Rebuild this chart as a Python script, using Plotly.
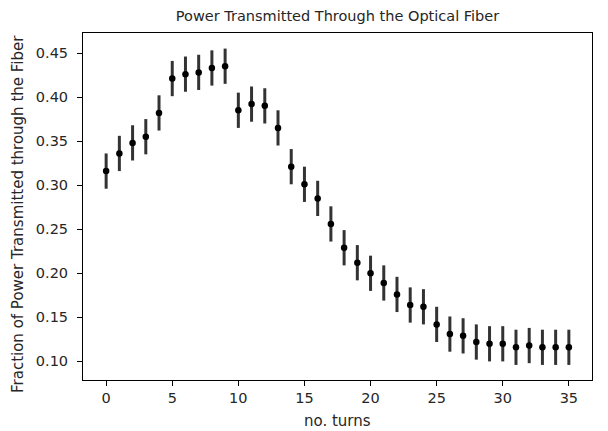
import plotly.graph_objects as go

turns = list(range(36))
fraction = [0.316, 0.336, 0.348, 0.355, 0.382, 0.421, 0.426, 0.428, 0.433, 0.435,
            0.385, 0.392, 0.390, 0.365, 0.321, 0.301, 0.285, 0.256, 0.229, 0.212,
            0.200, 0.189, 0.176, 0.164, 0.162, 0.142, 0.131, 0.129, 0.122, 0.120,
            0.120, 0.116, 0.118, 0.116, 0.116, 0.116]
error = [0.02] * 36
x_ticks = [0, 5, 10, 15, 20, 25, 30, 35]
y_ticks = [0.10, 0.15, 0.20, 0.25, 0.30, 0.35, 0.40, 0.45]

FONT = "DejaVu Sans"
TXT = "#262626"
L, R, T, B = 83, 592, 33, 380

fig = go.Figure(go.Scatter(
    x=turns, y=fraction, mode="markers",
    marker=dict(color="black", size=6.5),
    error_y=dict(type="data", array=error, visible=True, color="#333333",
                 thickness=3, width=0),
))

tick_common = dict(showline=True, linecolor="black", linewidth=1, mirror=True,
                   ticks="outside", ticklen=5, tickcolor="black", showgrid=False,
                   zeroline=False, tickfont=dict(family=FONT, size=14.5, color=TXT))

fig.update_layout(
    width=608, height=431,
    margin=dict(l=L, r=608 - R, t=T, b=431 - B),
    plot_bgcolor="white", paper_bgcolor="white",
    showlegend=False,
    title=dict(text="Power Transmitted Through the Optical Fiber",
               x=(L + R) / 2 / 608, xanchor="center", y=1 - 15.5 / 431, yanchor="middle",
               font=dict(family=FONT, size=14.5, color=TXT)),
    xaxis=dict(range=[-1.75, 36.75], tickvals=x_ticks, **tick_common),
    yaxis=dict(range=[0.0789, 0.4727], tickvals=y_ticks, tickformat=".2f",
               ticklabelstandoff=6, **tick_common),
    annotations=[
        dict(text="no. turns", xref="paper", yref="paper",
             x=0.5, y=(B - 421) / (B - T), xanchor="center", yanchor="middle",
             showarrow=False, font=dict(family=FONT, size=15, color=TXT)),
        dict(text="Fraction of Power Transmitted through the Fiber",
             xref="paper", yref="paper", textangle=-90,
             x=(18 - L) / (R - L), y=(B - 214) / (B - T),
             xanchor="center", yanchor="middle",
             showarrow=False, font=dict(family=FONT, size=15, color=TXT)),
    ],
)

fig.write_html("out.html", config={"displayModeBar": False},
               post_script="document.body.style.margin='0';")
